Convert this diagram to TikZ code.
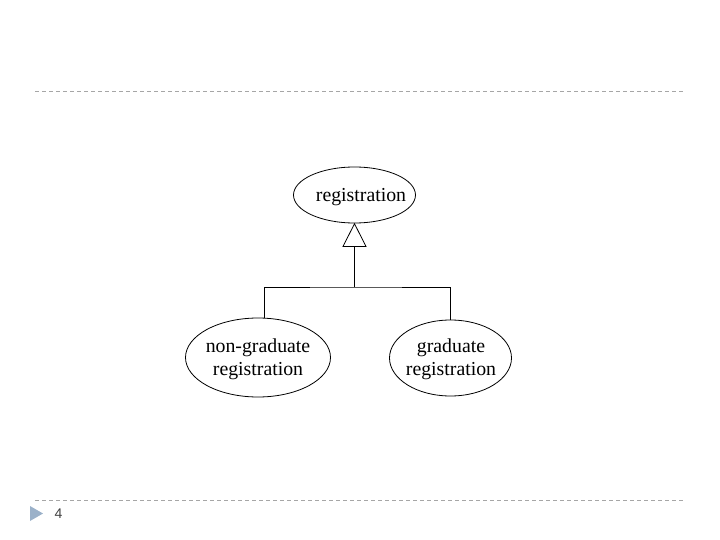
\documentclass[tikz,border=0pt]{standalone}
\usepackage{fontspec}
\setmainfont{Liberation Serif}
\newfontfamily\numfont{Liberation Sans}
\usetikzlibrary{shapes.geometric,arrows.meta}
\definecolor{rule}{HTML}{A6A6A6}
\definecolor{bullet}{HTML}{9BB1C9}
\tikzset{
  usecase/.style={draw=black, line width=0.8pt, ellipse, inner sep=0pt},
  lbl/.style={align=center, font=\fontsize{19.8}{23}\selectfont},
  conn/.style={line width=0.8pt},
  sep/.style={draw=rule, line width=0.8pt, dash pattern=on 4pt off 3pt},
}
\begin{document}
\begin{tikzpicture}[x=1pt,y=-1pt]
\useasboundingbox (0,0) rectangle (720,540);
% separators
\coordinate (t1) at (35,91);
\coordinate (t2) at (685,91);
\coordinate (b1) at (35,500);
\coordinate (b2) at (685,500);
\draw[sep] (t1) -- (t2);
\draw[sep] (b1) -- (b2);
% page marker
\fill[bullet] (30,506) -- (43,513.5) -- (30,521) -- cycle;
\node[font=\numfont\fontsize{14}{16}\selectfont, text=black!75] (pnum) at (58.5,514) {4};
% ellipses
\node[usecase, minimum width=122pt, minimum height=56pt] (top) at (354.5,195) {};
\node[lbl] (toptxt) at (361,197) {registration};
\node[usecase, minimum width=145pt, minimum height=79pt] (left) at (258,357.5) {};
\node[lbl] (lefttxt) at (258,359) {non-graduate\\registration};
\node[usecase, minimum width=122pt, minimum height=76pt] (right) at (450.5,358) {};
\node[lbl] (righttxt) at (451,359) {graduate\\registration};
% connectors
\coordinate (j) at (354.5,287);
\coordinate (lj) at (264.5,287);
\draw[conn, shorten >=-0.6pt, -{Triangle[open, length=24pt, width=24pt, line width=0.8pt]}] (j) -- (top.south);
\draw[conn] (lj) -- (j) -| (right.north);
\draw[conn] (lj) -- (lj |- left.north);
\end{tikzpicture}
\end{document}
